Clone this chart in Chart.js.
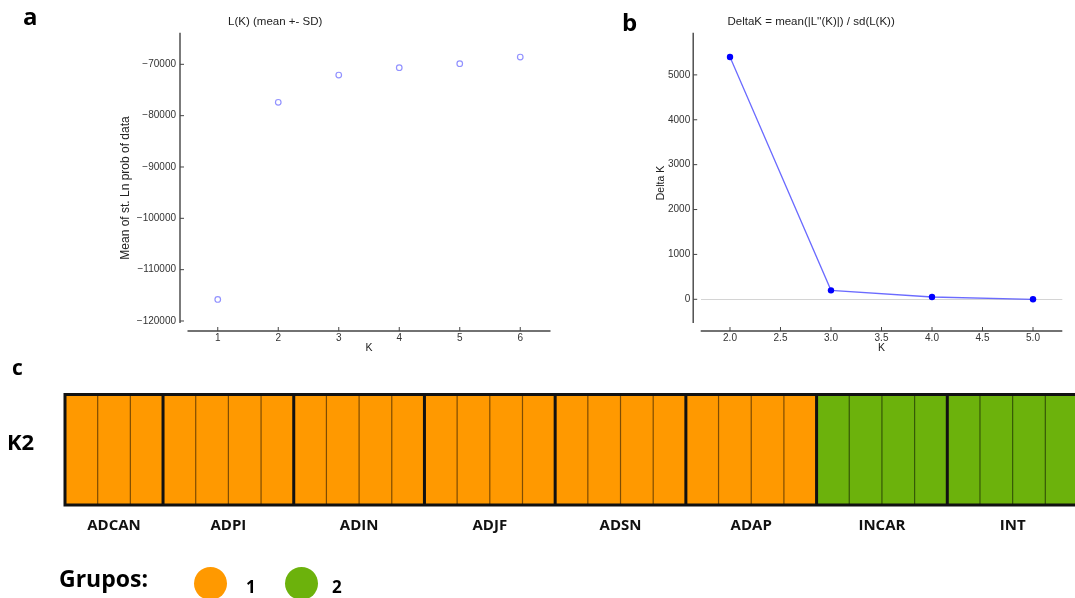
<!DOCTYPE html>
<html>
<head>
<meta charset="utf-8">
<script src="https://cdn.jsdelivr.net/npm/chart.js@4"></script>
<style>
html, body { margin: 0; padding: 0; background: #fff; overflow: hidden; width: 1075px; height: 598px; }
canvas { position: absolute; }
.txt { position: absolute; font-family: "Open Sans", sans-serif; font-weight: 700; color: #000; white-space: nowrap; line-height: 1; }
.dot { position: absolute; border-radius: 50%; }
</style>
</head>
<body>
<canvas id="chartA" width="560" height="360" style="left:0;top:0"></canvas>
<canvas id="chartB" width="515" height="360" style="left:560px;top:0"></canvas>
<canvas id="chartC" width="1100" height="238" style="left:0;top:360px"></canvas>

<div class="txt" style="left:23px;top:4px;font-size:24px">a</div>
<div class="txt" style="left:622px;top:10px;font-size:24px">b</div>
<div class="txt" style="left:12px;top:357px;font-size:21px">c</div>
<div class="txt" style="left:7px;top:430px;font-size:22px">K2</div>

<div class="txt" style="left:59px;top:567px;font-size:23px">Grupos:</div>
<div class="dot" style="left:194px;top:567px;width:33px;height:33px;background:#ff9900"></div>
<div class="txt" style="left:246px;top:578px;font-size:17px">1</div>
<div class="dot" style="left:285px;top:567px;width:33px;height:33px;background:#6cb20c"></div>
<div class="txt" style="left:332px;top:578px;font-size:17px">2</div>

<script>
// L(K) per K
const kValues = [1, 2, 3, 4, 5, 6];
const meanLnProb = [-115800, -77400, -72090, -70660, -69880, -68580];
const yTicksA = [-120000, -110000, -100000, -90000, -80000, -70000];

// DeltaK per K
const deltaKValues = [2, 3, 4, 5];
const deltaK = [5400, 200, 51, 0];
const yTicksB = [0, 1000, 2000, 3000, 4000, 5000];
const xTicksB = [2.0, 2.5, 3.0, 3.5, 4.0, 4.5, 5.0];

// K=2 membership per individual
const popNames = ['ADCAN', 'ADPI', 'ADIN', 'ADJF', 'ADSN', 'ADAP', 'INCAR', 'INT'];
const popSizes = [3, 4, 4, 4, 4, 4, 4, 4];
const group1 = [1, 0.99, 1,  1, 1, 1, 1,  1, 1, 1, 1,  1, 1, 1, 1,  1, 1, 1, 1,  1, 1, 1, 1,  0, 0, 0, 0,  0, 0, 0, 0];
const group2 = [0, 0.01, 0,  0, 0, 0, 0,  0, 0, 0, 0,  0, 0, 0, 0,  0, 0, 0, 0,  0, 0, 0, 0,  1, 1, 1, 1,  1, 1, 1, 1];

const tickFont = { family: '"Liberation Sans", Arial, sans-serif', size: 10 };
const titleFont = { family: '"Liberation Sans", Arial, sans-serif', size: 11.5, weight: 'normal' };

// matplotlib-like detached spines, inward ticks and axis labels
const mplAxes = {
  id: 'mplAxes',
  afterDraw(chart, args, o) {
    const { ctx, chartArea: a, scales: { x, y } } = chart;
    const sx = a.left - 7.5, sy = a.bottom + 8;
    ctx.save();
    ctx.strokeStyle = '#444';
    ctx.lineWidth = 1.4;
    ctx.beginPath();
    ctx.moveTo(sx, a.top); ctx.lineTo(sx, a.bottom);
    ctx.moveTo(a.left, sy); ctx.lineTo(a.right, sy);
    ctx.stroke();
    ctx.lineWidth = 1;
    ctx.beginPath();
    y.ticks.forEach(t => { const p = y.getPixelForValue(t.value); ctx.moveTo(sx, p); ctx.lineTo(sx + 4, p); });
    x.ticks.forEach(t => { const p = x.getPixelForValue(t.value); ctx.moveTo(p, sy); ctx.lineTo(p, sy - 4); });
    ctx.stroke();
    ctx.fillStyle = '#222';
    ctx.textAlign = 'center';
    ctx.textBaseline = 'middle';
    ctx.font = '10.5px "Liberation Sans", Arial, sans-serif';
    ctx.fillText(o.xTitle, (a.left + a.right) / 2, sy + 17.5);
    ctx.font = o.yTitleSize + 'px "Liberation Sans", Arial, sans-serif';
    ctx.translate(o.yTitleX, o.yTitleY);
    ctx.rotate(-Math.PI / 2);
    ctx.fillText(o.yTitle, 0, 0);
    ctx.restore();
  }
};

function fixedTicks(list) {
  return scale => { scale.ticks = list.map(v => ({ value: v })); };
}

new Chart(document.getElementById('chartA'), {
  type: 'scatter',
  data: {
    datasets: [{
      data: kValues.map((k, i) => ({ x: k, y: meanLnProb[i] })),
      pointStyle: 'circle',
      pointRadius: 2.8,
      pointBorderWidth: 1.2,
      pointBorderColor: 'rgba(110,110,255,0.75)',
      pointBackgroundColor: 'rgba(0,0,0,0)'
    }]
  },
  options: {
    responsive: false,
    animation: false,
    layout: { padding: { left: 0, right: 9.5, top: 0, bottom: 0 } },
    plugins: {
      legend: { display: false },
      tooltip: { enabled: false },
      title: { display: true, text: 'L(K) (mean +- SD)', color: '#222', font: titleFont, padding: { top: 15, bottom: 3.9 } },
      mplAxes: { xTitle: 'K', yTitle: 'Mean of st. Ln prob of data', yTitleX: 126, yTitleY: 188, yTitleSize: 12 }
    },
    scales: {
      x: {
        type: 'linear', min: 0.5, max: 6.5,
        afterBuildTicks: fixedTicks(kValues),
        afterFit: s => { s.height = 37; },
        grid: { display: false, drawTicks: false },
        border: { display: false },
        ticks: { color: '#333', font: tickFont, padding: 9, maxRotation: 0 }
      },
      y: {
        min: -120390, max: -63840,
        afterBuildTicks: fixedTicks(yTicksA),
        afterFit: s => { s.width = 187.5; },
        grid: { display: false, drawTicks: false },
        border: { display: false },
        ticks: { color: '#333', font: tickFont, padding: 11.5, callback: v => String(v).replace('-', '\u2212') }
      }
    }
  },
  plugins: [mplAxes]
});

new Chart(document.getElementById('chartB'), {
  type: 'line',
  data: {
    datasets: [{
      data: deltaKValues.map((k, i) => ({ x: k, y: deltaK[i] })),
      borderColor: 'rgba(70,70,255,0.8)',
      borderWidth: 1.3,
      pointRadius: 3.2,
      pointBorderWidth: 0,
      pointBackgroundColor: '#0000ff',
      tension: 0
    }]
  },
  options: {
    responsive: false,
    animation: false,
    layout: { padding: { left: 0, right: 12.7, top: 0, bottom: 0 } },
    plugins: {
      legend: { display: false },
      tooltip: { enabled: false },
      title: { display: true, text: "DeltaK = mean(|L''(K)|) / sd(L(K))", color: '#222', font: titleFont, padding: { top: 15, bottom: 3.9 } },
      mplAxes: { xTitle: 'K', yTitle: 'Delta K', yTitleX: 100.7, yTitleY: 183, yTitleSize: 10.5 }
    },
    scales: {
      x: {
        type: 'linear', min: 1.71, max: 5.29,
        afterBuildTicks: fixedTicks(xTicksB),
        afterFit: s => { s.height = 37; },
        grid: { display: false, drawTicks: false },
        border: { display: false },
        ticks: { color: '#333', font: tickFont, padding: 9, maxRotation: 0, callback: v => v.toFixed(1) }
      },
      y: {
        min: -528, max: 5940,
        afterBuildTicks: fixedTicks(yTicksB),
        afterFit: s => { s.width = 140.7; },
        grid: {
          drawTicks: false,
          lineWidth: 1,
          color: c => (c.tick && c.tick.value === 0 ? '#d4d4d4' : 'rgba(0,0,0,0)')
        },
        border: { display: false },
        ticks: { color: '#333', font: tickFont, padding: 10.5, callback: v => String(v) }
      }
    }
  },
  plugins: [mplAxes]
});

// individual ids, one per bar
const individuals = [];
popNames.forEach((p, i) => { for (let j = 0; j < popSizes[i]; j++) individuals.push(p + '_' + (j + 1)); });

// separators, frame and population names for the structure bar plot
const structureFrame = {
  id: 'structureFrame',
  afterDatasetsDraw(chart) {
    const { ctx, chartArea: a, scales: { x } } = chart;
    const edge = i => (i <= 0 ? a.left : i >= individuals.length ? a.right : (x.getPixelForValue(i - 1) + x.getPixelForValue(i)) / 2);
    ctx.save();
    ctx.strokeStyle = 'rgba(0,0,0,0.5)';
    ctx.lineWidth = 1.2;
    ctx.beginPath();
    for (let i = 1; i < individuals.length; i++) { ctx.moveTo(edge(i), a.top); ctx.lineTo(edge(i), a.bottom); }
    ctx.stroke();

    ctx.strokeStyle = '#111';
    ctx.lineWidth = 3;
    ctx.beginPath();
    let start = 0;
    const centers = [];
    popSizes.forEach(n => {
      centers.push((edge(start) + edge(start + n)) / 2);
      start += n;
      if (start < individuals.length) { ctx.moveTo(edge(start), a.top); ctx.lineTo(edge(start), a.bottom); }
    });
    ctx.stroke();
    ctx.strokeRect(a.left, a.top, a.right - a.left, a.bottom - a.top);

    ctx.fillStyle = '#111';
    ctx.font = 'bold 15px "Open Sans", sans-serif';
    ctx.textAlign = 'center';
    ctx.textBaseline = 'middle';
    popNames.forEach((p, i) => ctx.fillText(p, centers[i], a.bottom + 21));
    ctx.restore();
  }
};

new Chart(document.getElementById('chartC'), {
  type: 'bar',
  data: {
    labels: individuals,
    datasets: [
      { label: '1', data: group1, backgroundColor: '#ff9900', borderWidth: 0, categoryPercentage: 1, barPercentage: 1 },
      { label: '2', data: group2, backgroundColor: '#6cb20c', borderWidth: 0, categoryPercentage: 1, barPercentage: 1 }
    ]
  },
  options: {
    responsive: false,
    animation: false,
    layout: { padding: { left: 65, right: 22, top: 34.5, bottom: 93 } },
    plugins: { legend: { display: false }, tooltip: { enabled: false } },
    scales: {
      x: { stacked: true, display: false },
      y: { stacked: true, display: false, min: 0, max: 1 }
    }
  },
  plugins: [structureFrame]
});
</script>
</body>
</html>
